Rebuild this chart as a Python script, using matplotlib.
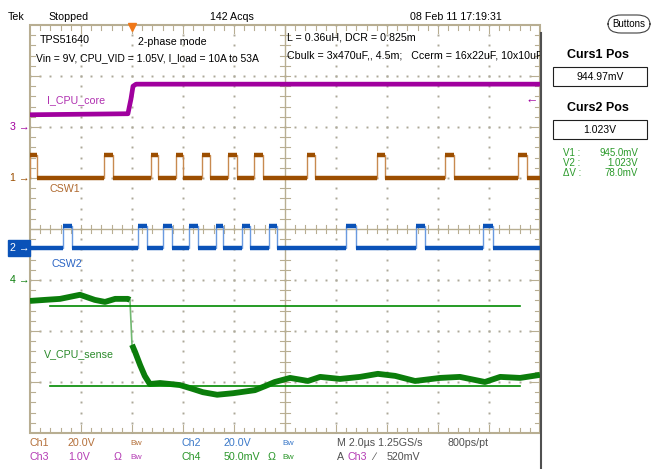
import matplotlib.pyplot as plt
import numpy as np
from matplotlib.patches import Rectangle, FancyBboxPatch
from matplotlib.lines import Line2D

plt.rcParams['font.family'] = ['Liberation Sans', 'DejaVu Sans']

W, H = 653, 469

# traces, in screen divisions (10 x 8 graticule)
i_core_x = [0.0, 1.92, 1.98, 2.02, 2.08, 10.0]
i_core_y = [6.24, 6.26, 6.55, 6.80, 6.84, 6.84]

csw1_low, csw1_high = 5.0, 5.45
csw1_pulses = [(0.0, 0.14), (1.45, 1.63), (2.37, 2.51), (2.86, 3.0), (3.37, 3.53),
               (3.88, 4.06), (4.39, 4.57), (5.43, 5.59), (6.80, 6.96), (8.14, 8.31),
               (9.57, 9.75)]

csw2_low, csw2_high = 3.63, 4.06
csw2_pulses = [(0.65, 0.82), (2.12, 2.29), (2.61, 2.78), (3.12, 3.29), (3.65, 3.78),
               (4.16, 4.31), (4.69, 4.84), (6.20, 6.39), (7.57, 7.75), (8.88, 9.08)]

vs_before_x = [0.0, 0.29, 0.59, 0.98, 1.27, 1.47, 1.67, 1.92, 1.96]
vs_before_y = [2.59, 2.61, 2.63, 2.71, 2.61, 2.57, 2.63, 2.63, 2.61]
vs_after_x = [2.0, 2.06, 2.16, 2.25, 2.35, 2.55, 2.75, 2.94, 3.14, 3.39, 3.67, 3.98,
              4.41, 4.61, 4.80, 5.10, 5.45, 5.69, 6.08, 6.47, 6.82, 7.16, 7.55, 8.04,
              8.43, 8.92, 9.22, 9.61, 10.0]
vs_after_y = [1.73, 1.59, 1.33, 1.12, 0.96, 0.98, 0.96, 0.94, 0.88, 0.80, 0.75, 0.78,
              0.84, 0.92, 1.0, 1.08, 1.02, 1.10, 1.06, 1.10, 1.16, 1.12, 1.02, 1.08,
              1.10, 1.0, 1.10, 1.08, 1.14]

cursor_levels = [2.49, 0.92]
cursor_span = [0.39, 9.61]
trig_x = 2.0
trig_level = 6.52
ch_ground = {'3': 6.0, '1': 5.0, '2': 3.63, '4': 3.0}

PURPLE = '#a0009e'
BROWN = '#9c4e00'
BLUE = '#0a52b8'
GREEN = '#0b7d0b'
GRAT = '#b8ae92'
DOT = '#aca898'

fig = plt.figure(figsize=(W / 100, H / 100), dpi=100)
ax = fig.add_axes([30 / W, (H - 433) / H, 510 / W, 408 / H])
ax.set_xlim(0, 10)
ax.set_ylim(0, 8)
ax.axis('off')


def fx(px):
    return px / W


def fy(py):
    return 1 - py / H


# graticule
for i in range(1, 10):
    if i == 5:
        continue
    yy = np.arange(0, 8.01, 0.2)
    ax.plot([i] * len(yy), yy, 's', ms=1.4, color=DOT, mew=0)
for j in range(1, 8):
    if j == 4:
        continue
    xx = np.arange(0, 10.01, 0.2)
    ax.plot(xx, [j] * len(xx), 's', ms=1.4, color=DOT, mew=0)

ax.plot([5, 5], [0, 8], color=GRAT, lw=1)
ax.plot([0, 10], [4, 4], color=GRAT, lw=1)
for t in np.arange(0.2, 10, 0.2):
    ax.plot([t, t], [3.92, 4.08], color=GRAT, lw=0.8)
for t in np.arange(0.2, 8, 0.2):
    ax.plot([4.9, 5.1], [t, t], color=GRAT, lw=0.8)

ax.add_patch(Rectangle((0, 0), 10, 8, fill=False, ec=GRAT, lw=1.5, clip_on=False))
for t in np.arange(0.2, 10, 0.2):
    L = 0.16 if abs(t - round(t)) < 0.01 else 0.1
    ax.plot([t, t], [0, L], color=GRAT, lw=0.8)
    ax.plot([t, t], [8, 8 - L], color=GRAT, lw=0.8)
for t in np.arange(0.2, 8, 0.2):
    L = 0.2 if abs(t - round(t)) < 0.01 else 0.1
    ax.plot([0, L], [t, t], color=GRAT, lw=0.8)
    ax.plot([10, 10 - L], [t, t], color=GRAT, lw=0.8)


def pulse_train(pulses, low, high):
    xs, ys = [0.0], [low]
    for a, b in pulses:
        xs += [a, a, b, b]
        ys += [low, high, high, low]
    xs.append(10.0)
    ys.append(low)
    return xs, ys


def draw_switch(pulses, low, high, color, light):
    xs, ys = pulse_train(pulses, low, high)
    ax.plot(xs, ys, color=light, lw=1.0)
    edges = [0.0] + [e for p in pulses for e in p] + [10.0]
    for k in range(0, len(edges) - 1, 2):
        if edges[k + 1] > edges[k]:
            ax.hlines(low, edges[k], edges[k + 1], color=color, lw=3.2)
    for a, b in pulses:
        ax.hlines(high, a, b, color=color, lw=3.2)


# I_CPU_core
ax.plot(i_core_x, i_core_y, color=PURPLE, lw=3.4, solid_capstyle='butt')

draw_switch(csw1_pulses, csw1_low, csw1_high, BROWN, '#c88a50')
draw_switch(csw2_pulses, csw2_low, csw2_high, BLUE, '#6a9ae0')

# V_CPU_sense
ax.plot([vs_before_x[-1], vs_after_x[0]], [vs_before_y[-1], vs_after_y[0]],
        color='#70b870', lw=1.2)
ax.plot(vs_before_x, vs_before_y, color=GREEN, lw=4.2, solid_capstyle='butt')
ax.plot(vs_after_x, vs_after_y, color=GREEN, lw=4.2, solid_capstyle='butt')

# cursors
for c in cursor_levels:
    ax.plot(cursor_span, [c, c], color='#008a00', lw=1.2)

# trigger markers
ax.plot([trig_x], [7.96], 'v', color='#f07818', ms=6, clip_on=False)
ax.text(9.96, trig_level, '\u2190', color=PURPLE, fontsize=9, ha='right', va='center')

# channel ground markers on the left
fs = 7.7
fig.patches.append(Rectangle((fx(8), fy(256)), fx(22), 16 / H, transform=fig.transFigure,
                             color='#0a52b8', zorder=3))
for ch, col in [('3', PURPLE), ('1', BROWN), ('2', 'white'), ('4', GREEN)]:
    yy = ax.transData.transform((0, ch_ground[ch]))[1] / H
    fig.text(fx(29), yy, ch + ' \u2192', color=col, fontsize=fs, ha='right', va='center',
             zorder=4)

# header
fig.text(fx(8), fy(17), 'Tek', fontsize=fs, va='center')
fig.text(fx(48), fy(17), 'Stopped', fontsize=fs, va='center')
fig.text(fx(210), fy(17), '142 Acqs', fontsize=fs, va='center')
fig.text(fx(410), fy(17), '08 Feb 11 17:19:31', fontsize=fs, va='center')

# annotations inside screen
fig.text(fx(40), fy(40), 'TPS51640', fontsize=fs, va='center')
fig.text(fx(138), fy(42), '2-phase mode', fontsize=fs, va='center')
fig.text(fx(36), fy(58), 'Vin = 9V, CPU_VID = 1.05V, I_load = 10A to 53A', fontsize=7.5,
         va='center')
fig.text(fx(287), fy(38), 'L = 0.36uH, DCR = 0.825m', fontsize=fs, va='center')
ax.text(5.04, (433 - 56) / 51, 'Cbulk = 3x470uF,, 4.5m;   Ccerm = 16x22uF, 10x10uF',
        fontsize=fs, va='center', clip_on=True)
fig.text(fx(47), fy(100), 'I_CPU_core', fontsize=fs, va='center', color='#b030b0')
fig.text(fx(50), fy(189), 'CSW1', fontsize=fs, va='center', color='#b06a30')
fig.text(fx(52), fy(264), 'CSW2', fontsize=fs, va='center', color='#2a64c4')
fig.text(fx(44), fy(354), 'V_CPU_sense', fontsize=fs, va='center', color='#2a8a2a')

# bottom status lines
c1, c2, c3, c4 = '#b4703a', '#3a78c8', '#b43cb4', '#2a962a'
row1, row2 = fy(443), fy(457)
fig.text(fx(30), row1, 'Ch1', color=c1, fontsize=fs, va='center')
fig.text(fx(68), row1, '20.0V', color=c1, fontsize=fs, va='center')
fig.text(fx(130), row1, 'Bw', color=c1, fontsize=6, va='center')
fig.text(fx(182), row1, 'Ch2', color=c2, fontsize=fs, va='center')
fig.text(fx(224), row1, '20.0V', color=c2, fontsize=fs, va='center')
fig.text(fx(282), row1, 'Bw', color=c2, fontsize=6, va='center')
fig.text(fx(337), row1, 'M 2.0\u00b5s 1.25GS/s', color='#505050', fontsize=fs, va='center')
fig.text(fx(448), row1, '800ps/pt', color='#505050', fontsize=fs, va='center')
fig.text(fx(30), row2, 'Ch3', color=c3, fontsize=fs, va='center')
fig.text(fx(68), row2, '1.0V', color=c3, fontsize=fs, va='center')
fig.text(fx(114), row2, '\u03a9', color=c3, fontsize=fs, va='center')
fig.text(fx(130), row2, 'Bw', color=c3, fontsize=6, va='center')
fig.text(fx(182), row2, 'Ch4', color=c4, fontsize=fs, va='center')
fig.text(fx(224), row2, '50.0mV', color=c4, fontsize=fs, va='center')
fig.text(fx(268), row2, '\u03a9', color=c4, fontsize=fs, va='center')
fig.text(fx(282), row2, 'Bw', color=c4, fontsize=6, va='center')
fig.text(fx(337), row2, 'A', color='#505050', fontsize=fs, va='center')
fig.text(fx(348), row2, 'Ch3', color=c3, fontsize=fs, va='center')
fig.text(fx(373), row2, '\u2215', color='#505050', fontsize=fs, va='center')
fig.text(fx(387), row2, '520mV', color='#505050', fontsize=fs, va='center')

# right panel
fig.add_artist(Line2D([fx(541), fx(541)], [fy(33), 0], color='#505050', lw=1.5))
fig.patches.append(FancyBboxPatch((fx(608), fy(33)), fx(42), 18 / H, transform=fig.transFigure,
                                  boxstyle='round,pad=0,rounding_size=0.02', fill=False,
                                  ec='#404040', lw=0.8))
fig.text(fx(629), fy(24), 'Buttons', fontsize=7, ha='center', va='center')
fig.text(fx(598), fy(55), 'Curs1 Pos', fontsize=9, weight='bold', ha='center', va='center')
fig.patches.append(Rectangle((fx(553), fy(86)), fx(94), 19 / H, transform=fig.transFigure,
                             fill=False, ec='#202020', lw=0.8))
fig.text(fx(600), fy(77), '944.97mV', fontsize=7.5, ha='center', va='center')
fig.text(fx(598), fy(108), 'Curs2 Pos', fontsize=9, weight='bold', ha='center', va='center')
fig.patches.append(Rectangle((fx(553), fy(139)), fx(94), 19 / H, transform=fig.transFigure,
                             fill=False, ec='#202020', lw=0.8))
fig.text(fx(600), fy(130), '1.023V', fontsize=7.5, ha='center', va='center')
for yy, lab, val in [(153, 'V1 :', '945.0mV'), (163, 'V2 :', '1.023V'), (173, '\u0394V :', '78.0mV')]:
    fig.text(fx(563), fy(yy), lab, fontsize=7, color='#2a9a2a', va='center')
    fig.text(fx(638), fy(yy), val, fontsize=7, color='#2a9a2a', va='center', ha='right')

fig.savefig('out.png', dpi=100)
